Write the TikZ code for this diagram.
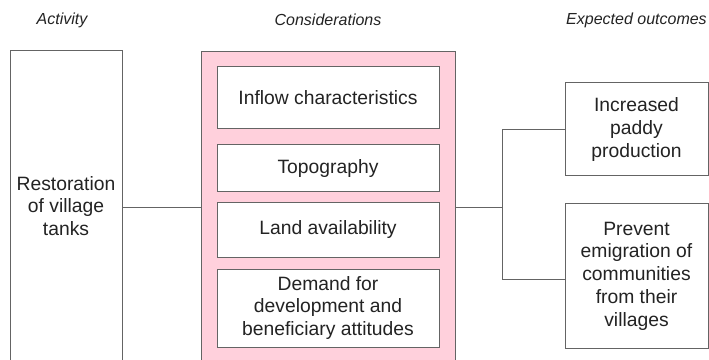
\documentclass[tikz,border=0pt]{standalone}
\usepackage{fontspec}
\setmainfont{Liberation Sans}
\definecolor{boxpink}{RGB}{255,208,220}
\definecolor{edgegray}{RGB}{100,100,100}
\definecolor{textgray}{RGB}{35,35,35}
\begin{document}
\begin{tikzpicture}[x=1pt,y=1pt,
  box/.style={draw=edgegray,line width=1pt,fill=white,align=center,inner sep=0pt,
    text=textgray,font=\fontsize{19.3}{22.7}\selectfont},
  head/.style={text=textgray,font=\fontsize{16}{19}\selectfont\itshape},
  link/.style={draw=edgegray,line width=0.8pt}]
\useasboundingbox[fill=white] (0,0) rectangle (709,359);

\node[head] (hact) at (62,339) {Activity};
\node[head] (hcon) at (328,339) {Considerations};
\node[head] (hout) at (636.5,339) {Expected outcomes};

\node[box,minimum width=112pt,minimum height=310pt] (act) at (66,153) {Restoration\\of village\\tanks};
\node[box,fill=boxpink,minimum width=254pt,minimum height=310pt] (pink) at (328,152) {};

\node[box,minimum width=222pt,minimum height=62pt] (inflow) at (328,261) {Inflow characteristics};
\node[box,minimum width=222pt,minimum height=47pt] (topo) at (328,190.5) {Topography};
\node[box,minimum width=222pt,minimum height=54pt] (land) at (328,129) {Land availability};
\node[box,minimum width=222pt,minimum height=78pt] (demand) at (328,51) {Demand for\\development and\\beneficiary attitudes};

\node[box,minimum width=143pt,minimum height=93pt] (inc) at (636.5,229.5) {Increased\\paddy\\production};
\node[box,minimum width=143pt,minimum height=144pt] (prev) at (636.5,83) {Prevent\\emigration of\\communities\\from their\\villages};

\draw[link] (pink.west) -- (pink.west -| act.east);
\draw[link] (pink.east) -- ++(47,0) coordinate (fork);
\draw[link] (inc.west) -| (fork) |- ([yshift=-3pt]prev.west);
\end{tikzpicture}
\end{document}
